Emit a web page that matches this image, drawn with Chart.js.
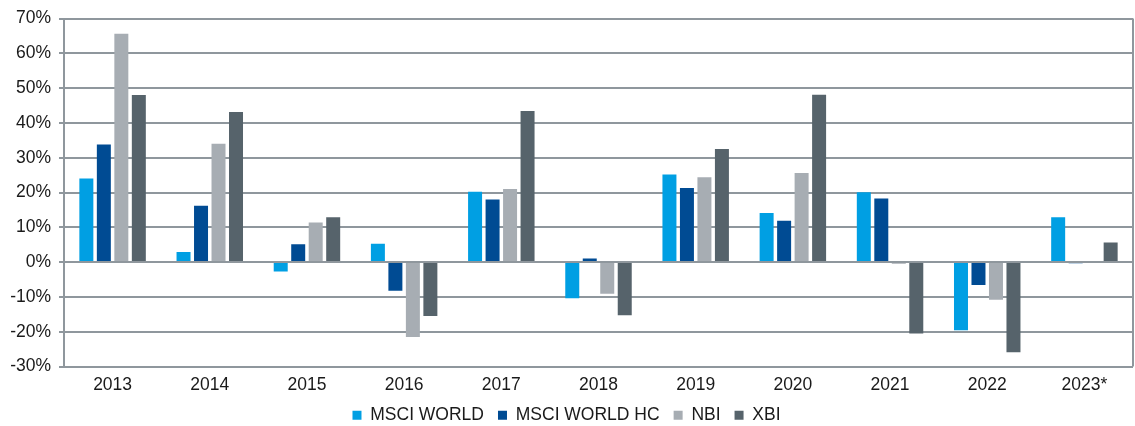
<!DOCTYPE html>
<html>
<head>
<meta charset="utf-8">
<script src="https://cdn.jsdelivr.net/npm/chart.js@4"></script>
<style>
  html, body { margin: 0; padding: 0; background: #fff; }
  #wrap { width: 1135px; height: 426px; }
</style>
</head>
<body>
<div id="wrap"><canvas id="chart" width="1135" height="426"></canvas></div>
<script>
const years = ['2013', '2014', '2015', '2016', '2017', '2018', '2019', '2020', '2021', '2022', '2023*']

// yearly returns in %
const msciWorld = [24.0, 2.9, -2.7, 5.3, 20.2, -10.4, 25.2, 14.1, 20.1, -19.6, 12.9]
const msciWorldHc = [33.8, 16.2, 5.1, -8.2, 18.0, 1.0, 21.3, 11.9, 18.3, -6.6, -0.3]
const nbi = [65.6, 34.0, 11.4, -21.5, 21.0, -9.1, 24.4, 25.6, -0.5, -10.8, null]
const xbi = [48.0, 43.1, 12.9, -15.5, 43.4, -15.3, 32.5, 48.1, -20.5, -25.9, 5.6]

const series = [
  { label: 'MSCI WORLD', data: msciWorld, color: '#009fe3' },
  { label: 'MSCI WORLD HC', data: msciWorldHc, color: '#004b93' },
  { label: 'NBI', data: nbi, color: '#a7adb3' },
  { label: 'XBI', data: xbi, color: '#56636b' }
]

const gridColor = '#8f979d'

// right-hand frame line of the plot area
const frame = {
  id: 'frame',
  afterDraw (chart) {
    const { ctx, chartArea } = chart
    ctx.save()
    ctx.strokeStyle = gridColor
    ctx.lineWidth = 2
    ctx.beginPath()
    ctx.moveTo(chartArea.right, chartArea.top)
    ctx.lineTo(chartArea.right, chartArea.bottom)
    ctx.stroke()
    ctx.restore()
  }
}

// legend: keep the wide gaps between items but pull the row closer to the axis
const tightLegend = {
  id: 'tightLegend',
  afterInit (chart) {
    const legend = chart.legend
    const fit = legend.fit
    const draw = legend.draw
    legend.fit = function () {
      fit.call(this)
      this.height -= 11
    }
    legend.draw = function () {
      this.top -= 3
      draw.call(this)
      this.top += 3
    }
  }
}

Chart.defaults.font.family = '"Liberation Sans", Arial, sans-serif'
Chart.defaults.font.size = 17.5
Chart.defaults.color = '#1a1a1a'

new Chart(document.getElementById('chart').getContext('2d'), {
  type: 'bar',
  data: {
    labels: years,
    datasets: series.map((s) => ({
      label: s.label,
      data: s.data,
      backgroundColor: s.color,
      borderWidth: 0,
      categoryPercentage: 0.72,
      barPercentage: 0.8,
      minBarLength: 1
    }))
  },
  options: {
    responsive: false,
    animation: false,
    layout: { padding: { top: 14, right: 2, left: 0, bottom: 0 } },
    plugins: {
      tooltip: { enabled: false },
      legend: {
        position: 'bottom',
        labels: {
          boxWidth: 9,
          boxHeight: 9,
          padding: 14
        }
      }
    },
    scales: {
      x: {
        grid: { display: false },
        border: { display: false },
        ticks: { padding: 0 }
      },
      y: {
        min: -30,
        max: 70,
        afterFit: (scale) => { scale.width = 64 },
        ticks: {
          stepSize: 10,
          padding: 8,
          callback: (v) => v + '%'
        },
        grid: {
          color: gridColor,
          lineWidth: 2,
          tickLength: 5
        },
        border: { color: gridColor, width: 2 }
      }
    }
  },
  plugins: [frame, tightLegend]
})
</script>
</body>
</html>
